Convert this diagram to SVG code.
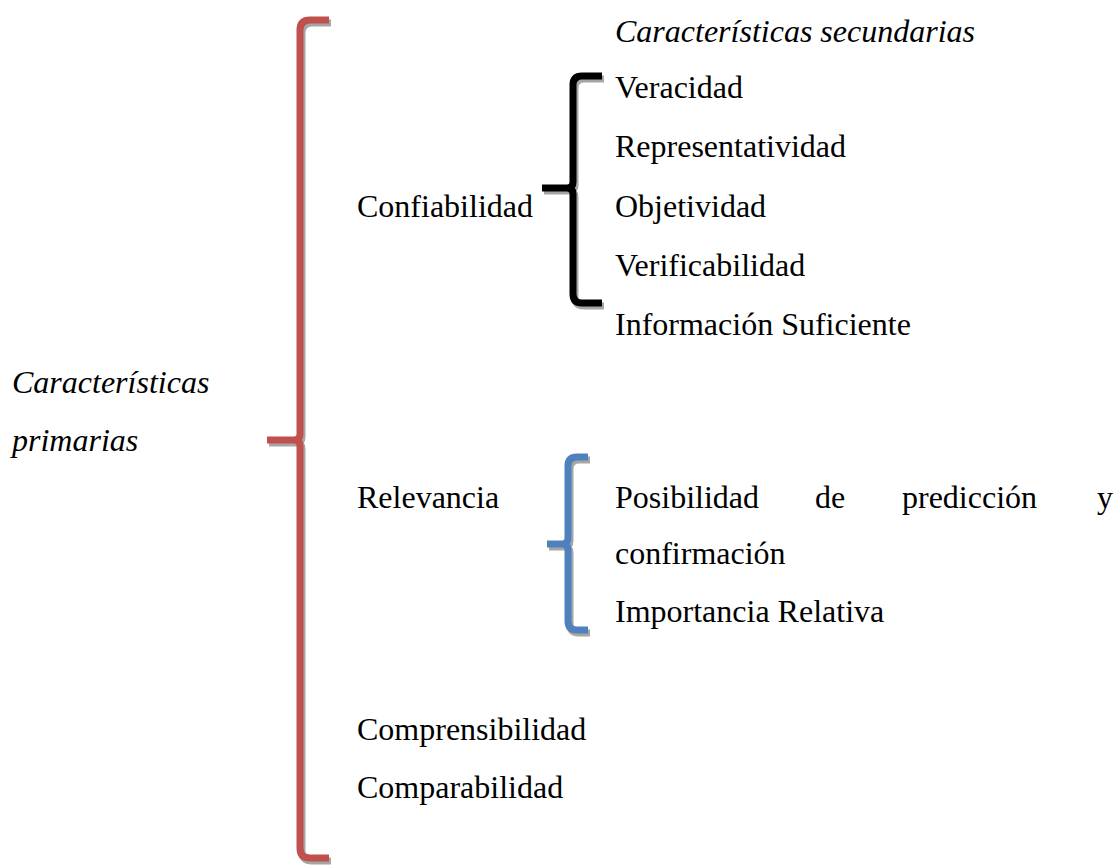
<svg xmlns="http://www.w3.org/2000/svg" width="1117" height="865" viewBox="0 0 1117 865">
<style>
text{font-family:'Liberation Serif','DejaVu Serif',serif;font-size:32px;fill:#000}
.it{font-style:italic}
.br{fill:none;stroke-width:7;stroke-linejoin:round}
.sh{fill:none;stroke:#a6a6a6;stroke-width:7;stroke-linejoin:round}
</style>
<rect width="1117" height="865" fill="#fff"/>
<g id="connectors">
<g id="brace-primary">
<path class="sh" transform="translate(2,3)" d="M329,20 L310,20 Q300,20 300,30 L300,434 Q300,440 294,440 L267,440 M294,440 Q300,440 300,446 L300,848 Q300,858 310,858 L329,858"/>
<path class="br" stroke="#c0504d" d="M329,20 L310,20 Q300,20 300,30 L300,434 Q300,440 294,440 L267,440 M294,440 Q300,440 300,446 L300,848 Q300,858 310,858 L329,858"/>
</g>
<g id="brace-confiabilidad">
<path class="sh" transform="translate(2,3)" d="M602,76 L582,76 Q573,76 573,85 L573,182 Q573,188 567,188 L542,188 M567,188 Q573,188 573,194 L573,294 Q573,303 582,303 L602,303"/>
<path class="br" stroke="#000" d="M602,76 L582,76 Q573,76 573,85 L573,182 Q573,188 567,188 L542,188 M567,188 Q573,188 573,194 L573,294 Q573,303 582,303 L602,303"/>
</g>
<g id="brace-relevancia">
<path class="sh" transform="translate(2,3)" d="M588,457 L577,457 Q568,457 568,466 L568,538 Q568,544 562,544 L547,544 M562,544 Q568,544 568,550 L568,621 Q568,630 577,630 L588,630"/>
<path class="br" stroke="#4f81bd" d="M588,457 L577,457 Q568,457 568,466 L568,538 Q568,544 562,544 L547,544 M562,544 Q568,544 568,550 L568,621 Q568,630 577,630 L588,630"/>
</g>
</g>
<g id="node-primarias">
<text class="it" x="12" y="393" font-family="Liberation Serif">Características</text>
<text class="it" x="12" y="451" font-family="Liberation Serif">primarias</text>
</g>
<g id="node-secundarias-title">
<text class="it" x="615" y="42" font-family="Liberation Serif">Características secundarias</text>
</g>
<g id="node-confiabilidad">
<text x="357" y="217" font-family="Liberation Serif">Confiabilidad</text>
</g>
<g id="node-confiabilidad-items">
<text x="615" y="98" font-family="Liberation Serif">Veracidad</text>
<text x="615" y="157" font-family="Liberation Serif">Representatividad</text>
<text x="615" y="217" font-family="Liberation Serif">Objetividad</text>
<text x="615" y="276" font-family="Liberation Serif">Verificabilidad</text>
<text x="615" y="335" font-family="Liberation Serif">Información Suficiente</text>
</g>
<g id="node-relevancia">
<text x="357" y="508" font-family="Liberation Serif">Relevancia</text>
</g>
<g id="node-relevancia-items">
<text x="615" y="508" font-family="Liberation Serif">Posibilidad</text>
<text x="815" y="508" font-family="Liberation Serif">de</text>
<text x="902" y="508" font-family="Liberation Serif">predicción</text>
<text x="1097" y="508" font-family="Liberation Serif">y</text>
<text x="615" y="564" font-family="Liberation Serif">confirmación</text>
<text x="615" y="622" font-family="Liberation Serif">Importancia Relativa</text>
</g>
<g id="node-comprensibilidad">
<text x="357" y="740" font-family="Liberation Serif">Comprensibilidad</text>
</g>
<g id="node-comparabilidad">
<text x="357" y="798" font-family="Liberation Serif">Comparabilidad</text>
</g>
</svg>
